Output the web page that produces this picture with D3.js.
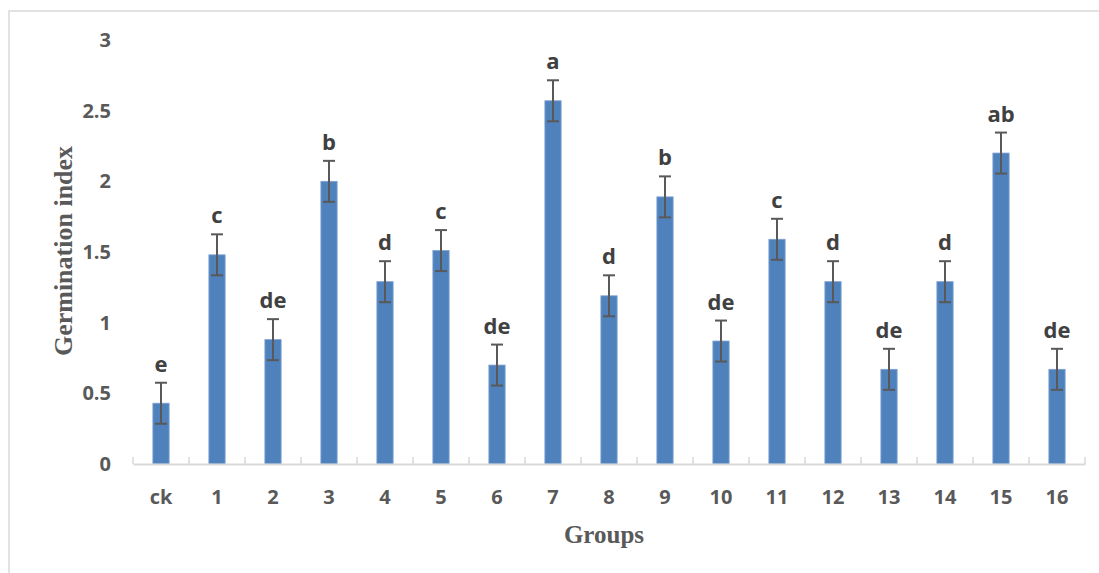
<!DOCTYPE html>
<html>
<head>
<meta charset="utf-8">
<script src="https://cdn.jsdelivr.net/npm/d3@7"></script>
<style>
  body { margin: 0; background: #fff; }
</style>
</head>
<body>
<script>
"use strict";
var svg_width = 1099;
var svg_height = 573;

// data
var groups = ["ck", "1", "2", "3", "4", "5", "6", "7", "8", "9", "10", "11", "12", "13", "14", "15", "16"];
var germination = [0.43, 1.48, 0.88, 2.0, 1.29, 1.51, 0.70, 2.57, 1.19, 1.89, 0.87, 1.59, 1.29, 0.67, 1.29, 2.20, 0.67];
var error_bars = [0.145, 0.145, 0.145, 0.145, 0.145, 0.145, 0.145, 0.145, 0.145, 0.145, 0.145, 0.145, 0.145, 0.145, 0.145, 0.145, 0.145];
var letters = ["e", "c", "de", "b", "d", "c", "de", "a", "d", "b", "de", "c", "d", "de", "d", "ab", "de"];
var y_ticks = [0, 0.5, 1, 1.5, 2, 2.5, 3];

var svg = d3.select("body")
    .append("svg")
    .attr("width", svg_width)
    .attr("height", svg_height);

//---light frame round the chart area
svg.append("rect")
    .attr("x", 9)
    .attr("y", 11)
    .attr("width", svg_width + 20)
    .attr("height", svg_height + 20)
    .attr("fill", "none")
    .attr("stroke", "#d9d9d9")
    .attr("stroke-width", 1.5);

var xscale = d3.scaleBand()
    .domain(groups)
    .range([133, 1085])
    .padding(0);

var yscale = d3.scaleLinear()
    .domain([0, 3])
    .range([464, 40]);

var bar_width = xscale.bandwidth() * 0.29;

// y axis: labels only
var yaxis = d3.axisLeft(yscale)
    .tickValues(y_ticks)
    .tickSize(0)
    .tickPadding(0)
    .tickFormat(function(d) { return d; });
var yg = svg.append("g")
    .attr("transform", "translate(111,0)")
    .call(yaxis);
yg.select(".domain").remove();
yg.selectAll("text")
    .attr("font-family", "'Open Sans', sans-serif")
    .attr("font-weight", "bold")
    .attr("font-size", 20)
    .attr("fill", "#595959");

// bars
svg.selectAll("rect.bar")
    .data(germination)
    .enter()
    .append("rect")
    .attr("class", "bar")
    .attr("x", function(d, i) { return xscale(groups[i]) + (xscale.bandwidth() - bar_width) / 2; })
    .attr("y", function(d) { return yscale(d); })
    .attr("width", bar_width)
    .attr("height", function(d) { return yscale(0) - yscale(d); })
    .attr("fill", "#4f81bd")
    .attr("stroke", "#7ea1cf")
    .attr("stroke-width", 0.8);

// x axis line with inside ticks at the band edges
var xaxis = d3.axisBottom(xscale)
    .tickSize(0)
    .tickPadding(26);
var xg = svg.append("g")
    .attr("transform", "translate(0," + yscale(0) + ")")
    .call(xaxis);
xg.select(".domain")
    .attr("stroke", "#d9d9d9")
    .attr("stroke-width", 2);
xg.selectAll("text")
    .attr("font-family", "'Open Sans', sans-serif")
    .attr("font-weight", "bold")
    .attr("font-size", 20)
    .attr("fill", "#595959");

var edges = groups.map(function(g) { return xscale(g); });
edges.push(xscale.range()[1]);
svg.selectAll("line.edge")
    .data(edges)
    .enter()
    .append("line")
    .attr("class", "edge")
    .attr("x1", function(d) { return d; })
    .attr("x2", function(d) { return d; })
    .attr("y1", yscale(0) - 7)
    .attr("y2", yscale(0))
    .attr("stroke", "#d9d9d9")
    .attr("stroke-width", 1.5);

// error bars
var err = svg.selectAll("g.err")
    .data(germination)
    .enter()
    .append("g")
    .attr("class", "err")
    .attr("stroke", "#595959")
    .attr("stroke-width", 2);
err.append("line")
    .attr("x1", function(d, i) { return xscale(groups[i]) + xscale.bandwidth() / 2; })
    .attr("x2", function(d, i) { return xscale(groups[i]) + xscale.bandwidth() / 2; })
    .attr("y1", function(d, i) { return yscale(d + error_bars[i]); })
    .attr("y2", function(d, i) { return yscale(d - error_bars[i]); });
err.append("line")
    .attr("x1", function(d, i) { return xscale(groups[i]) + xscale.bandwidth() / 2 - 6; })
    .attr("x2", function(d, i) { return xscale(groups[i]) + xscale.bandwidth() / 2 + 6; })
    .attr("y1", function(d, i) { return yscale(d + error_bars[i]); })
    .attr("y2", function(d, i) { return yscale(d + error_bars[i]); });
err.append("line")
    .attr("x1", function(d, i) { return xscale(groups[i]) + xscale.bandwidth() / 2 - 6; })
    .attr("x2", function(d, i) { return xscale(groups[i]) + xscale.bandwidth() / 2 + 6; })
    .attr("y1", function(d, i) { return yscale(d - error_bars[i]); })
    .attr("y2", function(d, i) { return yscale(d - error_bars[i]); });

// significance letters
svg.selectAll("text.letter")
    .data(letters)
    .enter()
    .append("text")
    .attr("class", "letter")
    .attr("x", function(d, i) { return xscale(groups[i]) + xscale.bandwidth() / 2; })
    .attr("y", function(d, i) { return yscale(germination[i] + error_bars[i]) - 11; })
    .attr("text-anchor", "middle")
    .attr("font-family", "'Open Sans', sans-serif")
    .attr("font-weight", "bold")
    .attr("font-size", 22)
    .attr("fill", "#404040")
    .text(function(d) { return d; });

// axis titles
svg.append("text")
    .attr("transform", "translate(72,251) rotate(-90)")
    .attr("text-anchor", "middle")
    .attr("font-family", "'Liberation Serif', serif")
    .attr("font-weight", "bold")
    .attr("font-size", 26)
    .attr("fill", "#595959")
    .text("Germination index");

svg.append("text")
    .attr("x", 604)
    .attr("y", 543)
    .attr("text-anchor", "middle")
    .attr("font-family", "'Liberation Serif', serif")
    .attr("font-weight", "bold")
    .attr("font-size", 25)
    .attr("fill", "#595959")
    .text("Groups");
</script>
</body>
</html>
